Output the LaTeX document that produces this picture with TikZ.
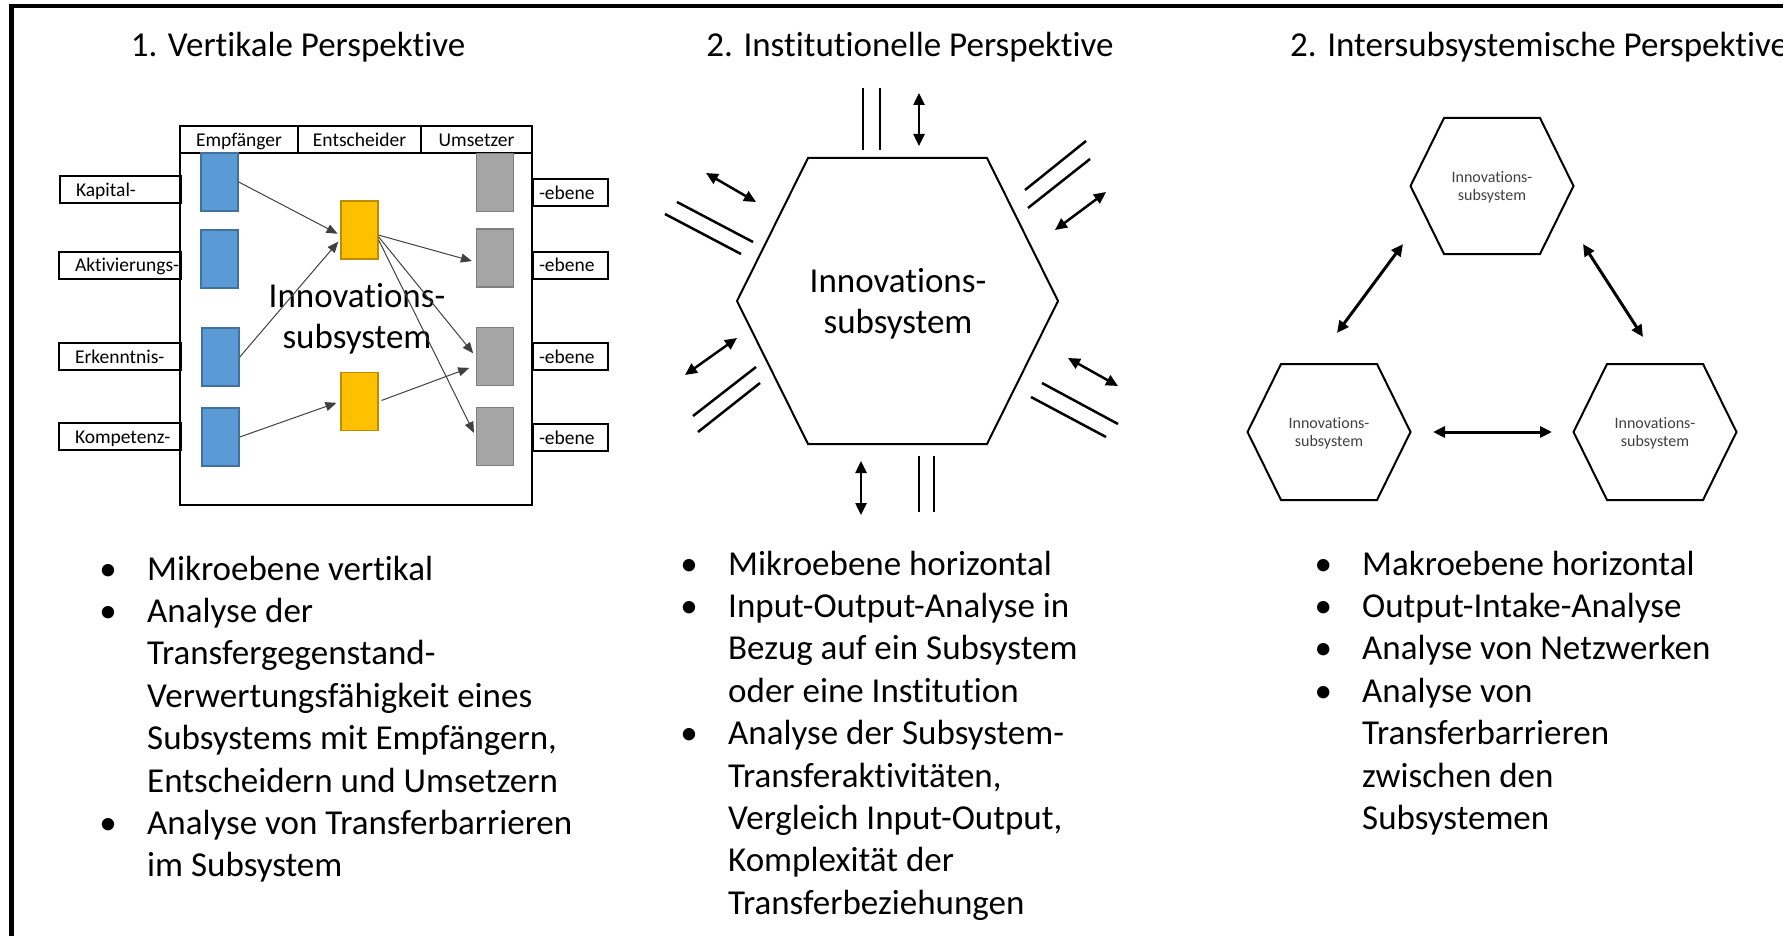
\documentclass[tikz,border=0pt]{standalone}
\usepackage{fontspec}
\setmainfont{Carlito}[Ligatures=CommonOff]
\usetikzlibrary{arrows.meta,calc}

\definecolor{recvblue}{HTML}{5B9BD5}
\definecolor{recvline}{HTML}{41719C}
\definecolor{decyellow}{HTML}{FFC000}
\definecolor{decline}{HTML}{BC8C00}
\definecolor{implgray}{HTML}{A5A5A5}
\definecolor{implline}{HTML}{7F7F7F}

% bullet hanging to the left of the text
\newcommand{\bpt}{\llap{\makebox[39pt][l]{\makebox[0pt]{•}}}}

\begin{document}
\begin{tikzpicture}[x=1pt,y=1pt,
  heading/.style={font=\fontsize{35}{41}\selectfont, inner sep=0pt},
  systxt/.style={font=\fontsize{35}{41}\selectfont, align=center, inner sep=0pt},
  hextxt/.style={font=\fontsize{16}{18.5}\selectfont, align=center, inner sep=0pt, text=black!75},
  bullets/.style={font=\fontsize{35}{42.4}\selectfont, align=left, inner sep=0pt, anchor=north west},
  lvl/.style={draw, line width=2pt, anchor=west, minimum height=27pt, inner ysep=0pt,
    text height=14pt, text depth=0pt, font=\fontsize{19.5}{22}\selectfont},
  hdr/.style={draw, line width=2pt, minimum height=27pt, inner sep=0pt,
    text height=14pt, text depth=0pt, font=\fontsize{19.5}{22}\selectfont},
  recv/.style={draw=recvline, fill=recvblue, line width=1.5pt,
    minimum width=37pt, minimum height=58pt, inner sep=0pt},
  dec/.style={recv, draw=decline, fill=decyellow},
  impl/.style={recv, draw=implline, fill=implgray},
  flowarrow/.style={-{Triangle[length=11pt,width=9pt]}, black!75, line width=1pt, shorten >=3pt},
  ioarrow/.style={{Triangle[length=12pt,width=11pt]}-{Triangle[length=12pt,width=11pt]}, line width=2.5pt},
  barline/.style={line width=2.5pt},
  hexline/.style={line width=2pt, line join=miter}
]
  \useasboundingbox (0,0) rectangle (1783,-936);
  % Frame
  \draw[line width=4.5pt, line join=miter] (11.7,-936) -- (11.7,-6) -- (1783,-6);

  % Titles
  \node[heading, anchor=base] (t1) at (298,-57) {1. Vertikale Perspektive};
  \node[heading, anchor=base] (t2) at (910,-57) {2. Institutionelle Perspektive};
  \node[heading, anchor=base west] (t3) at (1290,-57) {2. Intersubsystemische Perspektive};

  % 1. Vertical view: subsystem box with header
  \node[draw, line width=2pt, minimum width=352pt, minimum height=352pt, inner sep=0pt] (sys) at (356,-329) {};
  \node[hdr, minimum width=118pt] (emp) at (239,-139.5) {Empfänger};
  \node[hdr, minimum width=123pt] (ent) at (359.5,-139.5) {Entscheider};
  \node[hdr, minimum width=111pt] (ums) at (476.5,-139.5) {Umsetzer};

  % Levels left and right
  \node[lvl, inner xsep=16pt] (kap) at (59,-189.5) {\makebox[89pt][l]{Kapital-}};
  \node[lvl, inner xsep=16pt] (akt) at (58,-265) {\makebox[90pt][l]{Aktivierungs-}};
  \node[lvl, inner xsep=16pt] (erk) at (58,-356) {\makebox[90pt][l]{Erkenntnis-}};
  \node[lvl, inner xsep=16pt] (kom) at (58,-436.5) {\makebox[90pt][l]{Kompetenz-}};
  \node[lvl, inner xsep=6pt] (e1) at (532,-192.5) {\makebox[63pt][l]{-ebene}};
  \node[lvl, inner xsep=6pt] (e2) at (532,-265) {\makebox[63pt][l]{-ebene}};
  \node[lvl, inner xsep=6pt] (e3) at (532,-356) {\makebox[63pt][l]{-ebene}};
  \node[lvl, inner xsep=6pt] (e4) at (532,-437.5) {\makebox[63pt][l]{-ebene}};

  % Receivers, deciders, implementers
  \node[recv] (b1) at (219.5,-182) {};
  \node[recv] (b2) at (219.5,-259) {};
  \node[recv] (b3) at (220.5,-357) {};
  \node[recv] (b4) at (220.5,-437) {};
  \node[dec] (d1) at (359.5,-230) {};
  \node[dec] (d2) at (359.5,-401.5) {};
  \node[impl] (g1) at (495,-182.5) {};
  \node[impl] (g2) at (495,-258) {};
  \node[impl] (g3) at (495,-356.5) {};
  \node[impl] (g4) at (495,-436.5) {};

  \node[systxt, anchor=north] (sysname) at (357,-278.3) {\strut Innovations-\\subsystem};

  % Transfer flows
  \draw[flowarrow] (b1.east) -- (d1.195);
  \draw[flowarrow] (b3.east) -- (d1.206);
  \draw[flowarrow, shorten >=4pt] (b4.east) -- (d2.west);
  \draw[flowarrow, shorten >=4pt] (d1.-15) -- (g2.192);
  \draw[flowarrow, shorten >=4pt] (d1.-20) -- (g3.west);
  \draw[flowarrow, shorten >=4pt] (d1.-28) -- (g4.west);
  \draw[flowarrow, shorten >=7pt, shorten <=3pt] (d2.east) -- (g3.205);

  % 2. Institutional view: hexagon
  \draw[hexline] (808,-158) -- (987,-158) -- (1058,-301) -- (987,-444) -- (808,-444) -- (737,-301) -- cycle;
  \node[systxt, anchor=north] (inst) at (898,-263.3) {\strut Innovations-\\subsystem};
  % top
  \draw[barline] (863,-88) -- (863,-150) (880,-88) -- (880,-150);
  \draw[ioarrow] (919,-93) -- (919,-146);
  % bottom
  \draw[ioarrow] (861,-461) -- (861,-515);
  \draw[barline] (919,-456) -- (919,-512) (934,-456) -- (934,-512);
  % upper left
  \draw[ioarrow] (706,-173) -- (756,-202);
  \draw[barline] (677,-202) -- (753,-242) (665,-214) -- (741,-254);
  % lower left
  \draw[ioarrow] (685,-375) -- (737,-338);
  \draw[barline] (693,-416) -- (756,-367) (698,-432) -- (760,-383);
  % upper right
  \draw[barline] (1025,-190) -- (1086,-141) (1028,-208) -- (1090,-159);
  \draw[ioarrow] (1055,-230) -- (1106,-192);
  % lower right
  \draw[ioarrow] (1068,-358) -- (1118,-386);
  \draw[barline] (1042,-383) -- (1118,-424) (1031,-397) -- (1106,-437);

  % 3. Intersubsystemic view: three hexagons
  \coordinate (hT) at (1492,-186);
  \coordinate (hL) at (1329,-432);
  \coordinate (hR) at (1655,-432);
  \foreach \c in {hT,hL,hR}
    \draw[hexline] (\c) ++(-48,68) -- ++(96,0) -- ++(33.5,-68) -- ++(-33.5,-68) -- ++(-96,0) -- ++(-33.5,68) -- cycle;
  \node[hextxt, anchor=north] (ht) at (1492,-169) {\strut Innovations-\\subsystem};
  \node[hextxt, anchor=north] (hl) at (1329,-415) {\strut Innovations-\\subsystem};
  \node[hextxt, anchor=north] (hr) at (1655,-415) {\strut Innovations-\\subsystem};
  \draw[ioarrow, line width=3pt] ($(hL)+(8,99)$) -- ($(hT)+(-89,-58)$);
  \draw[ioarrow, line width=3pt] ($(hT)+(91,-58)$) -- ($(hR)+(-12,95)$);
  \draw[ioarrow, line width=3pt] ($(hL)+(104,0)$) -- ($(hR)+(-103,0)$);

  % Bullet lists
  \node[bullets] (l1) at (147,-550.3) {\strut\bpt Mikroebene vertikal\\
    \bpt Analyse der\\
    Transfergegenstand-\\
    Verwertungsfähigkeit eines\\
    Subsystems mit Empfängern,\\
    Entscheidern und Umsetzern\\
    \bpt Analyse von Transferbarrieren\\
    im Subsystem};
  \node[bullets] (l2) at (728,-545.3) {\strut\bpt Mikroebene horizontal\\
    \bpt Input-Output-Analyse in\\
    Bezug auf ein Subsystem\\
    oder eine Institution\\
    \bpt Analyse der Subsystem-\\
    Transferaktivitäten,\\
    Vergleich Input-Output,\\
    Komplexität der\\
    Transferbeziehungen};
  \node[bullets] (l3) at (1362,-545.3) {\strut\bpt Makroebene horizontal\\
    \bpt Output-Intake-Analyse\\
    \bpt Analyse von Netzwerken\\
    \bpt Analyse von\\
    Transferbarrieren\\
    zwischen den\\
    Subsystemen};
\end{tikzpicture}
\end{document}
